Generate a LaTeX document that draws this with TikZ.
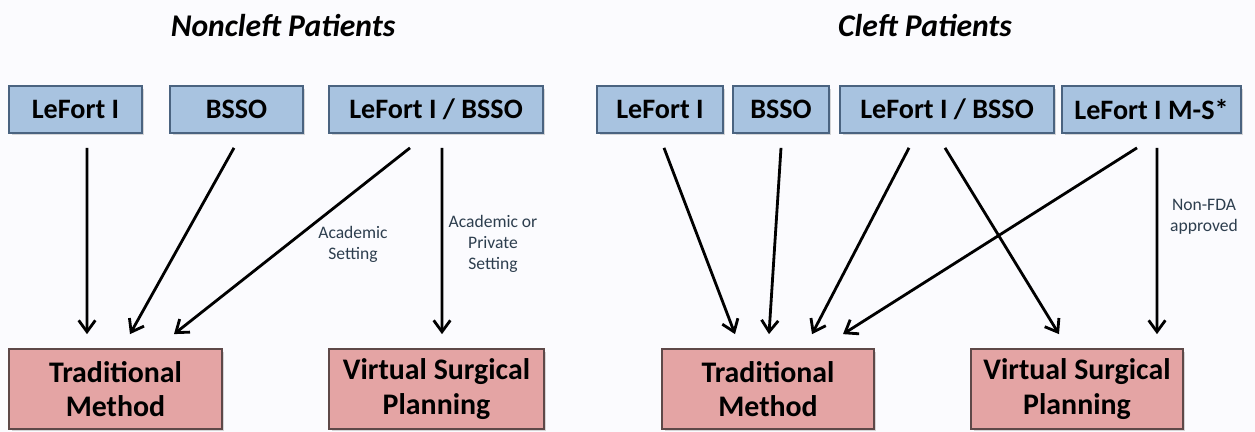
\documentclass[tikz,border=0pt]{standalone}
\usepackage{fontspec}
\setmainfont{Carlito}
\usetikzlibrary{arrows.meta,calc,shadows}

\definecolor{procfill}{HTML}{A8C3E0}
\definecolor{procline}{HTML}{4A6380}
\definecolor{planfill}{HTML}{E4A4A4}
\definecolor{planline}{HTML}{5E4848}
\definecolor{notetext}{HTML}{2D3E4E}
\definecolor{paper}{HTML}{FBFBFE}

\begin{document}
\begin{tikzpicture}[x=0.02cm,y=-0.02cm,
  proc/.style={draw=procline,fill=procfill,line width=1pt,minimum height=0.94cm,inner sep=0pt,
    font=\bfseries\fontsize{16}{19}\selectfont,
    drop shadow={opacity=0.3,shadow xshift=0.05cm,shadow yshift=-0.05cm}},
  plan/.style={draw=planline,fill=planfill,line width=1pt,minimum height=1.6cm,inner sep=0pt,
    align=center,font=\bfseries\fontsize{17}{19.5}\selectfont,
    drop shadow={opacity=0.3,shadow xshift=0.05cm,shadow yshift=-0.05cm}},
  head/.style={font=\bfseries\itshape\fontsize{18}{21}\selectfont},
  note/.style={text=notetext,align=center,font=\fontsize{10}{12}\selectfont},
  arr/.style={line width=1.6pt,-{Straight Barb[length=6.5pt,width=9.5pt]}}]

\useasboundingbox[fill=paper] (0,0) rectangle (1255,432);

% titles
\node[head] (tnon) at (283,26) {Noncleft Patients};
\node[head] (tcl) at (925,26) {Cleft Patients};

% noncleft
\node[proc,minimum width=2.66cm] (nlf) at (75.5,109.5) {LeFort I};
\node[proc,minimum width=2.66cm] (nbs) at (236.5,109.5) {BSSO};
\node[proc,minimum width=4.28cm] (nlb) at (436,109.5) {LeFort I / BSSO};
\node[plan,minimum width=4.26cm] (ntm) at (115.5,389) {Traditional\\Method};
\node[plan,minimum width=4.3cm] (nvsp) at (436.5,389) {Virtual Surgical\\Planning};

% cleft
\node[proc,minimum width=2.52cm] (clf) at (660,109.5) {LeFort I};
\node[proc,minimum width=1.92cm] (cbs) at (781,109.5) {BSSO};
\node[proc,minimum width=4.28cm] (clb) at (947,109.5) {LeFort I / BSSO};
\node[proc,minimum width=3.58cm] (cms) at (1151.5,109.5) {LeFort I M-S*};
\node[plan,minimum width=4.24cm] (ctm) at (768,389) {Traditional\\Method};
\node[plan,minimum width=4.24cm] (cvsp) at (1077,389) {Virtual Surgical\\Planning};

% notes
\node[note] (nacad) at (353,244.5) {Academic\\Setting};
\node[note] (npriv) at (493,244) {Academic or\\Private\\Setting};
\node[note] (nfda) at (1204,217) {Non-FDA\\approved};

\draw[arr] ($(nlf.south)+(11.5,14)$) -- ($(ntm.north)+(-28.5,-14)$);
\draw[arr] ($(nbs.south)+(-2.5,14)$) -- ($(ntm.north)+(14.5,-14)$);
\draw[arr] ($(nlb.south)+(-26,14)$) -- ($(ntm.north)+(58.5,-14)$);
\draw[arr] ($(nlb.south)+(6,14)$) -- ($(nvsp.north)+(5.5,-14)$);

\draw[arr] ($(clf.south)+(4,14)$) -- ($(ctm.north)+(-33,-14)$);
\draw[arr] ($(cbs.south)+(0,14)$) -- ($(ctm.north)+(1,-14)$);
\draw[arr] ($(clb.south)+(-38,14)$) -- ($(ctm.north)+(44,-14)$);
\draw[arr] ($(clb.south)+(-2,14)$) -- ($(cvsp.north)+(-18,-14)$);
\draw[arr] ($(cms.south)+(-14.5,14)$) -- ($(ctm.north)+(75,-14)$);
\draw[arr] ($(cms.south)+(5.5,14)$) -- ($(cvsp.north)+(80,-14)$);

\end{tikzpicture}
\end{document}
